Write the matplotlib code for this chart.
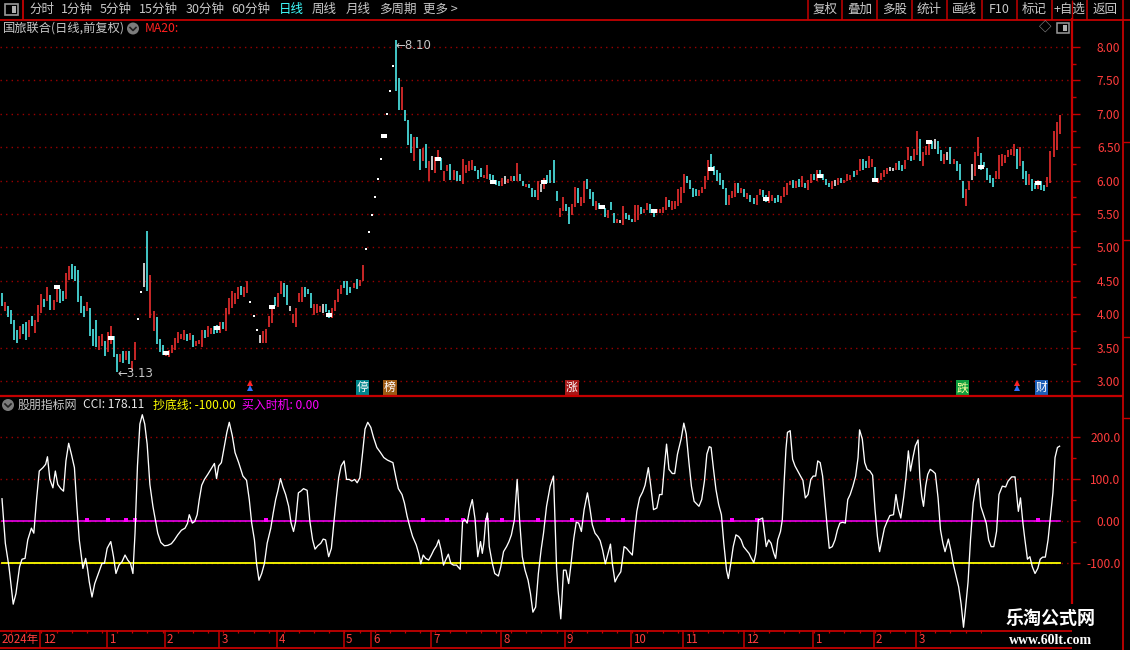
import numpy as np
import matplotlib
matplotlib.use("Agg")
import matplotlib.pyplot as plt
from matplotlib.patches import Rectangle, Circle
from matplotlib.transforms import blended_transform_factory

plt.rcParams['font.family'] = ['Noto Sans CJK SC', 'DejaVu Sans']

# ---- daily bars (high / low), kind: r=up g=down w=flat o=one-price ----
hi = [
 4.32,4.18,4.13,4.06,3.91,3.77,3.83,3.85,3.88,3.92,
 3.98,3.91,4.14,4.30,4.22,4.41,4.28,4.21,4.43,4.38,
 4.34,4.62,4.72,4.75,4.72,4.66,4.27,4.13,4.18,4.10,
 3.78,3.92,3.68,3.71,3.60,3.73,3.83,3.68,3.41,3.40,
 3.45,3.45,3.45,3.30,3.58,3.93,4.33,4.77,5.25,4.59,
 4.05,3.96,3.63,3.54,3.42,3.47,3.54,3.65,3.73,3.71,
 3.76,3.70,3.72,3.69,3.60,3.61,3.77,3.76,3.82,3.80,
 3.83,3.84,3.89,3.88,4.10,4.24,4.35,4.32,4.41,4.42,
 4.41,4.49,4.18,3.97,3.77,3.69,3.75,3.78,3.97,4.14,
 4.26,4.31,4.50,4.47,4.43,4.12,4.00,4.10,4.31,4.41,
 4.41,4.38,4.31,4.15,4.16,4.12,4.16,4.16,4.06,4.09,
 4.21,4.37,4.44,4.50,4.49,4.41,4.46,4.52,4.51,4.73,
 4.97,5.23,5.48,5.75,6.03,6.33,6.65,7.00,7.34,7.72,
 8.10,7.54,7.40,7.05,6.91,6.70,6.65,6.65,6.48,6.49,
 6.55,6.29,6.37,6.36,6.46,6.34,6.15,6.24,6.25,6.16,
 6.14,6.09,6.33,6.24,6.29,6.31,6.22,6.16,6.19,6.09,
 6.24,6.10,6.09,6.01,6.00,6.04,6.07,6.02,6.07,6.07,
 6.26,6.10,6.00,5.95,5.95,5.89,5.86,5.99,5.95,6.04,
 6.09,6.16,6.31,5.85,5.59,5.76,5.65,5.61,5.65,5.91,
 5.89,5.76,6.00,6.02,5.87,5.83,5.70,5.67,5.62,5.59,
 5.56,5.68,5.52,5.43,5.41,5.62,5.51,5.48,5.43,5.63,
 5.63,5.61,5.58,5.67,5.65,5.58,5.58,5.58,5.60,5.76,
 5.71,5.70,5.70,5.88,5.91,6.10,6.07,6.01,5.89,5.87,
 5.86,5.91,6.07,6.31,6.40,6.22,6.16,6.11,6.01,5.89,
 5.78,5.84,5.96,5.96,5.89,5.87,5.81,5.78,5.74,5.78,
 5.87,5.86,5.78,5.84,5.78,5.74,5.78,5.77,5.91,5.96,
 5.99,6.01,5.99,6.02,6.07,5.96,6.01,6.10,6.10,6.16,
 6.16,6.10,6.02,5.97,5.99,6.01,6.04,6.04,6.01,6.10,
 6.09,6.14,6.16,6.33,6.33,6.30,6.37,6.33,6.20,6.04,
 6.12,6.16,6.19,6.21,6.19,6.27,6.30,6.24,6.31,6.50,
 6.37,6.48,6.75,6.62,6.43,6.52,6.58,6.60,6.63,6.60,
 6.46,6.40,6.43,6.51,6.32,6.29,6.25,5.99,5.87,5.99,
 6.25,6.43,6.65,6.42,6.28,6.19,6.09,6.04,6.14,6.38,
 6.40,6.38,6.46,6.48,6.55,6.48,6.50,6.29,6.15,6.10,
 6.02,5.97,6.01,5.99,5.94,6.06,6.45,6.75,6.88,6.98,
]
lo = [
 4.12,4.05,3.96,3.85,3.62,3.57,3.63,3.71,3.62,3.66,
 3.82,3.72,3.88,4.02,4.11,4.20,4.07,4.07,4.18,4.17,
 4.20,4.22,4.51,4.52,4.49,4.18,4.02,3.96,4.05,3.68,
 3.52,3.51,3.47,3.53,3.37,3.44,3.56,3.36,3.13,3.28,
 3.27,3.31,3.26,3.16,3.32,3.93,4.33,4.40,4.34,3.95,
 3.75,3.56,3.44,3.39,3.38,3.36,3.42,3.47,3.57,3.63,
 3.61,3.60,3.61,3.51,3.53,3.55,3.51,3.65,3.66,3.70,
 3.71,3.72,3.72,3.78,3.75,4.01,4.09,4.16,4.22,4.29,
 4.26,4.32,4.18,3.97,3.77,3.57,3.57,3.57,3.81,3.87,
 4.12,4.11,4.30,4.25,4.14,4.05,3.87,3.81,4.19,4.19,
 4.26,4.30,4.10,3.99,4.02,4.04,4.02,4.04,3.95,3.95,
 4.05,4.19,4.30,4.39,4.29,4.32,4.39,4.38,4.42,4.49,
 4.97,5.23,5.48,5.75,6.03,6.33,6.65,7.00,7.34,7.72,
 7.34,7.06,7.05,6.89,6.54,6.41,6.30,6.49,6.16,6.29,
 6.19,5.99,6.16,6.11,6.30,6.16,5.99,6.14,6.01,6.01,
 5.99,6.00,5.95,6.11,6.14,6.16,6.14,6.02,6.06,6.04,
 6.02,6.01,5.95,5.94,5.92,5.92,5.95,5.97,5.99,5.99,
 5.99,6.00,5.92,5.91,5.89,5.75,5.75,5.71,5.83,5.87,
 5.96,5.97,5.97,5.69,5.45,5.54,5.54,5.35,5.48,5.61,
 5.66,5.62,5.66,5.87,5.73,5.62,5.56,5.58,5.57,5.46,
 5.44,5.56,5.37,5.36,5.37,5.34,5.43,5.41,5.38,5.38,
 5.41,5.50,5.52,5.56,5.52,5.46,5.52,5.51,5.52,5.56,
 5.60,5.56,5.58,5.62,5.67,5.81,5.96,5.88,5.75,5.77,
 5.77,5.81,5.88,6.01,6.16,6.09,5.99,5.93,5.88,5.63,
 5.63,5.74,5.76,5.82,5.81,5.76,5.72,5.68,5.65,5.63,
 5.78,5.76,5.68,5.67,5.69,5.66,5.68,5.67,5.76,5.78,
 5.93,5.89,5.89,5.91,5.91,5.89,5.86,5.97,6.01,6.00,
 6.04,6.01,5.93,5.91,5.88,5.92,5.94,5.96,5.96,5.99,
 6.01,6.05,6.09,6.14,6.16,6.19,6.19,6.21,5.99,5.97,
 6.01,6.06,6.10,6.14,6.14,6.16,6.16,6.15,6.17,6.31,
 6.30,6.31,6.38,6.29,6.22,6.38,6.38,6.47,6.48,6.40,
 6.30,6.25,6.31,6.25,6.25,6.15,6.01,5.74,5.62,5.86,
 6.01,6.07,6.37,6.16,6.20,6.01,5.96,5.91,6.02,6.02,
 6.22,6.26,6.35,6.38,6.37,6.17,6.22,6.02,5.94,5.94,
 5.84,5.87,5.87,5.86,5.84,5.91,5.97,6.36,6.46,6.70,
]
kind = "".join("""
grggggrggr grrrgrgrrg grrgggggrg ggrrgrrggr grgrroowgr
rgggrrrrrr rgrgrrrgrr ggrgrrrrrg rrooowrrrr grrggwrrrr
gggrrrwggr rrrgggrgrr oooooooooo ggrgggrggr grwrrgrrgr
ggrrrrgggr rggggrwrrg rggrgggrwr ggggrrggrr grrgggrggg
rggrwrgggr rgrrggrrrr grrrrrgggg rrrrgggggg rrrgrgrggr
rggrrggrrr rgrgrgrrgr ggggrwrgrr rgrrggrrgr rrrwwrggrr
grrgrrrgwg grwgrgggrr wrrgggggrr rrrrrgrggr ggrggrrrrr
""".split())

# white square marks on the price chart
sq_day = [18, 36, 54, 71, 89, 108, 126, 144, 162, 179, 198, 215, 234, 252, 270, 288, 306, 323, 342]
sq_price = [4.40, 3.65, 3.42, 3.80, 4.11, 3.99, 6.67, 6.33, 5.98, 5.98, 5.61, 5.55, 6.17,
            5.72, 6.07, 6.01, 6.58, 6.21, 5.96]

# events row at the bottom of the price panel
event_day = [82, 119, 128, 188, 317, 335, 343]
event_txt = ['^', '停', '榜', '涨', '跌', '^', '财']

# month boundaries on the date axis
month_day = [13, 35, 54, 72, 91, 113, 122, 142, 165, 186, 208, 225, 245, 268, 288, 302]
month_lab = ['12', '1', '2', '3', '4', '5', '6', '7', '8', '9', '10', '11', '12', '1', '2', '3']

# CCI line (day position, value)
cci_day = [
 0.0, 1.1, 2.3, 3.7, 4.6, 5.8, 6.6, 7.6, 8.5, 9.7, 10.5, 11.4, 12.3, 13.5, 14.4, 15.0, 15.8,
 16.8, 17.6, 18.4, 19.4, 20.3, 21.1, 22.0, 22.9, 23.9, 24.7, 25.5, 26.7, 27.6, 28.2, 28.8,
 29.7, 30.6, 31.8, 33.0, 33.8, 34.7, 35.9, 36.8, 37.6, 38.6, 39.6, 40.6, 41.5, 42.4, 43.2,
 43.9, 44.7, 45.5, 46.3, 47.1, 47.9, 48.8, 49.8, 50.6, 51.4, 52.4, 53.6, 54.7, 55.9, 56.9,
 58.0, 59.2, 60.4, 61.2, 61.8, 62.8, 63.6, 64.4, 65.1, 65.9, 66.8, 67.9, 69.1, 70.1, 70.8,
 71.5, 72.4, 73.4, 74.2, 75.0, 76.0, 76.9, 78.1, 79.5, 80.7, 81.6, 82.4, 83.3, 84.0, 84.8,
 85.7, 86.6, 87.5, 88.7, 89.5, 90.3, 91.0, 91.9, 92.7, 93.6, 94.6, 95.4, 96.2, 96.9, 97.8,
 98.6, 99.5, 100.7, 101.6, 102.5, 103.3, 104.2, 105.2, 106.0, 106.8, 107.8, 108.7, 109.5,
 110.4, 111.1, 111.9, 112.9, 113.7, 114.6, 115.4, 116.4, 117.2, 118.1, 119.0, 119.8, 120.7,
 121.7, 122.6, 123.7, 124.9, 126.0, 127.2, 129.0, 130.0, 130.8, 132.0, 132.8, 133.7, 134.7,
 135.5, 136.7, 137.5, 138.2, 139.0, 139.8, 140.8, 141.7, 142.5, 143.4, 144.1, 144.9, 145.7,
 146.4, 147.3, 148.1, 149.0, 150.0, 151.2, 152.0, 152.8, 153.5, 154.3, 155.2, 156.1, 157.0,
 157.9, 158.5, 159.0, 159.6, 160.2, 160.8, 161.8, 162.6, 163.8, 164.6, 165.5, 166.5, 167.3,
 168.1, 169.1, 170.0, 170.8, 171.7, 172.6, 173.6, 174.4, 175.2, 176.1, 177.0, 177.9, 178.7,
 179.7, 180.9, 182.0, 183.0, 183.5, 184.4, 185.3, 186.1, 187.0, 187.8, 188.7, 189.5, 190.3,
 191.2, 192.1, 193.2, 194.0, 194.8, 195.7, 196.6, 197.4, 198.2, 199.1, 200.0, 200.8, 201.4,
 202.3, 203.1, 204.2, 205.3, 206.1, 207.0, 208.0, 208.7, 209.5, 210.4, 211.4, 212.2, 213.3,
 214.1, 215.0, 216.1, 217.0, 217.8, 218.6, 219.3, 220.1, 221.2, 222.0, 222.9, 224.1, 225.0,
 225.8, 226.7, 227.5, 228.4, 229.2, 230.0, 230.9, 231.8, 232.6, 233.4, 234.0, 234.8, 235.6,
 236.5, 237.4, 238.2, 239.1, 239.7, 240.5, 241.3, 242.2, 243.1, 243.9, 244.7, 245.6, 246.5,
 247.3, 248.1, 248.8, 249.6, 250.4, 251.0, 251.5, 252.2, 253.0, 253.8, 254.7, 255.3, 256.0,
 256.9, 257.5, 258.1, 258.7, 259.2, 260.1, 260.9, 261.7, 262.6, 263.5, 264.3, 265.1, 266.0,
 266.9, 267.7, 268.5, 269.2, 270.0, 270.8, 271.5, 272.3, 273.0, 274.0, 274.9, 275.7, 276.5,
 277.4, 278.3, 279.1, 279.9, 280.8, 281.7, 282.5, 283.0, 283.9, 284.7, 285.5, 286.4, 287.3,
 288.1, 288.9, 289.6, 290.4, 291.2, 292.1, 293.0, 294.2, 295.0, 295.7, 296.6, 297.6, 298.3,
 299.1, 299.8, 300.6, 301.4, 302.3, 302.9, 303.5, 304.1, 304.8, 305.5, 306.3, 307.1, 308.0,
 308.9, 309.7, 310.5, 311.2, 312.3, 313.1, 313.9, 314.8, 315.7, 316.5, 317.3, 318.0, 318.8,
 319.6, 320.5, 321.4, 322.2, 323.0, 323.9, 324.8, 325.6, 326.4, 327.3, 328.2, 329.0, 330.1,
 331.2, 332.0, 333.2, 334.3, 335.0, 335.4, 336.1, 336.9, 337.5, 338.4, 339.2, 340.0, 340.9,
 341.8, 342.6, 343.4, 344.3, 345.2, 346.0, 346.8, 347.5, 348.3, 349.0,
]
cci_val = [
 53, -53, -109, -198, -173, -109, -91, -89, -45, -17, -29, 51, 119, 127, 135, 153, 99,
 79, 119, 87, 77, 71, 143, 185, 159, 127, 35, -45, -113, -89, -113, -145,
 -181, -149, -125, -101, -101, -65, -49, -85, -125, -105, -97, -81, -93, -101, -125,
 -29, 131, 231, 253, 231, 183, 87, 35, 3, -29, -51, -59, -58, -54, -45,
 -33, -22, -17, -6, 15, -5, -1, 15, 51, 85, 99, 111, 125, 137, 101,
 131, 139, 179, 211, 235, 203, 163, 139, 107, 97, 51, -5, -45, -101, -141,
 -125, -101, -53, -17, 19, 51, 71, 101, 81, 63, 35, -5, -25, -1, 67,
 71, 77, 73, -1, -45, -67, -59, -53, -43, -45, -85, -65, -5,
 59, 103, 131, 143, 99, 99, 95, 99, 91, 103, 163, 219, 235,
 223, 199, 175, 163, 151, 145, 139, 103, 77, 63, 43, 11, -17,
 -37, -57, -77, -102, -81, -89, -93, -81, -69, -59, -45, -69, -105,
 -93, -79, -101, -105, -105, -115, -1, 3, -5, 27, 51, 5, -85,
 -49, -77, -53, -1, 19, -61, -101, -125, -131, -109, -73, -61, -49,
 -33, 3, 99, 3, -85, -117, -141, -173, -217, -205, -125, -69, -29,
 35, 83, 107, -109, -165, -233, -117, -117, -149, -101, -41, -3, -5,
 -25, 27, 67, 31, -9, -29, -37, -47, -69, -102, -77, -55, -101,
 -145, -133, -121, -61, -65, -73, -81, -29, 23, 55, 69, 85, 127,
 83, 27, 31, 63, 63, 131, 183, 123, 113, 113, 159, 195, 233,
 207, 139, 83, 47, 41, 35, 51, 95, 159, 177, 175, 123, 75,
 39, 15, -53, -117, -137, -101, -61, -33, -37, -45, -61, -69, -77,
 -89, -99, -77, 3, 5, 7, -21, -61, -45, -53, -77, -89, -45,
 -25, 3, 91, 171, 211, 215, 147, 131, 119, 107, 97, 55, 63,
 99, 107, 107, 143, 139, 107, 51, -13, -65, -61, -45, -21, -5,
 -3, -5, 51, 63, 83, 107, 151, 217, 195, 139, 123, 119, 109,
 27, -37, -73, -45, -17, -1, 13, 15, 63, 31, 7, 59, 103,
 167, 119, 151, 179, 193, 103, 59, 35, 83, 111, 123, 119, 113,
 55, -21, -53, -73, -43, -69, -102, -129, -157, -197, -253, -205, -145,
 -45, 43, 83, 101, 35, 15, -5, -45, -61, -61, -25, 63, 83,
 81, 95, 105, 105, 51, 23, 55, -5, -41, -91, -85, -109, -125,
 -113, -91, -86, -86, -45, 11, 67, 151, 175, 178.11,
]
buy_day = [28, 35, 41, 44, 87, 139, 147, 152, 160, 165, 177, 188, 200, 205, 241, 249, 342]
cci_last = 178.11
bottom_line = -100.0
buy_now = 0.0

assert len(hi) == len(lo) == len(kind)
assert len(cci_day) == len(cci_val)

# ---- colours ----
UP = '#ff3232'
DN = '#54fcfc'
FRAME = '#c40000'
GRID = '#9a0000'
AXTXT = '#ff3c3c'
GREY = '#c8c8c8'

W, H = 1130, 650
fig = plt.figure(figsize=(W / 100, H / 100), dpi=100, facecolor='black')
XL = (-0.66, 353.1)


def panel(top, bottom):
    a = fig.add_axes([0, 1 - bottom / H, 1072 / W, (bottom - top) / H])
    a.set_facecolor('black')
    a.set_xlim(*XL)
    for s in ('left', 'top', 'bottom'):
        a.spines[s].set_visible(False)
    a.spines['right'].set_color(FRAME)
    a.spines['right'].set_linewidth(1.6)
    a.set_xticks([])
    a.yaxis.tick_right()
    a.tick_params(axis='y', which='major', colors=FRAME, labelcolor=AXTXT,
                  length=6, width=1, pad=28.8, labelsize=8.6)
    a.tick_params(axis='y', which='minor', colors=FRAME, length=3, width=1)
    return a


# ---- price panel ----
ax = panel(19, 395)
ax.set_ylim(2.79, 8.42)
pt = np.arange(3.0, 8.01, 0.5)
ax.set_yticks(pt, ['%.2f' % v for v in pt])
ax.set_yticks(pt[:-1] + 0.25, minor=True)
for lab in ax.get_yticklabels():
    lab.set_horizontalalignment('right')
for v in pt:
    ax.axhline(v, color=GRID, lw=1.0, ls=(0, (1, 3)), zorder=1)

x = np.arange(len(hi))
hi_a, lo_a = np.array(hi), np.array(lo)
k = np.array(list(kind))
for code, col in (('r', UP), ('g', DN), ('w', 'white')):
    m = k == code
    ax.vlines(x[m], lo_a[m], hi_a[m], colors=col, lw=1.1, zorder=3)
m = k == 'o'
ax.plot(x[m], hi_a[m], ls='none', marker='s', ms=1.5, color='white', mew=0, zorder=3)
box = [(-1, -0.62), (1, -0.62), (1, 0.62), (-1, 0.62), (-1, -0.62)]
ax.plot(sq_day, sq_price, ls='none', marker=box, ms=4.8, color='white', mew=0, zorder=4)

i_max, i_min = int(np.argmax(hi_a)), int(np.argmin(lo_a))
ax.annotate('\u2190%.2f' % hi_a[i_max], (i_max, hi_a[i_max]), xytext=(0, -4),
            textcoords='offset points', color=GREY, fontsize=8.5, va='center',
            family=['DejaVu Sans'])
ax.annotate('\u2190%.2f' % lo_a[i_min], (i_min, lo_a[i_min]), xytext=(0, -1),
            textcoords='offset points', color=GREY, fontsize=8.5, va='center',
            family=['DejaVu Sans'])

ev_style = {'停': ('#00868b', 'white'), '榜': ('#9c5a14', 'white'), '涨': ('#a81818', 'white'),
            '跌': ('#10a040', '#ffffa0'), '财': ('#1c5fb8', 'white')}
tr = blended_transform_factory(ax.transData, ax.transAxes)
for d, t in zip(event_day, event_txt):
    if t == '^':
        ax.plot([d], [0.032], marker='^', ms=4, color='#ff2020', mew=0, transform=tr, zorder=5)
        ax.plot([d], [0.019], marker='^', ms=4, color='#3070ff', mew=0, transform=tr, zorder=5)
    else:
        bg, fg = ev_style[t]
        ax.text(d, 0.019, t, transform=tr, ha='center', va='center', fontsize=8.5, color=fg,
                bbox=dict(boxstyle='square,pad=0.08', fc=bg, ec='none'), zorder=5)

# ---- CCI panel ----
ax2 = panel(396, 630)
ax2.set_ylim(-259.5, 297.6)
ct = [-100, 0, 100, 200]
ax2.set_yticks(ct, ['-100.0', '0.00', '100.0', '200.0'])
ax2.set_yticks([-50, 50, 150], minor=True)
for lab in ax2.get_yticklabels():
    lab.set_horizontalalignment('right')
for v in ct:
    ax2.axhline(v, color=GRID, lw=1.0, ls=(0, (1, 3)), zorder=1)
n = len(hi)
ax2.plot([0, n - 1], [bottom_line, bottom_line], color='#ffff00', lw=1.3, zorder=2)
ax2.plot([0, n - 1], [buy_now, buy_now], color='#ff00ff', lw=1.1, zorder=2)
ax2.plot(buy_day, [3] * len(buy_day), ls='none', marker='s', ms=2.2, color='#ff00ff', mew=0, zorder=2)
ax2.plot(cci_day, cci_val, color='white', lw=0.95, zorder=3)

# ---- date axis ----
ax3 = fig.add_axes([0, 1 - 648 / H, 1072 / W, 18 / H])
ax3.set_xlim(*XL)
ax3.set_ylim(0, 1)
ax3.axis('off')
ax3.vlines([d - 0.3 for d in month_day], 0, 1, colors=FRAME, lw=1.1)
ax3.vlines(np.arange(3, n, 5), 0.82, 1, colors=FRAME, lw=0.9)
for d, t in zip(month_day, month_lab):
    ax3.text(d + 0.4, 0.45, t, color=AXTXT, fontsize=8.3, va='center', ha='left')
ax3.text(XL[0] + 0.5, 0.45, '2024年', color=AXTXT, fontsize=8.3, va='center', ha='left')

# ---- frame, toolbar and labels (pixel overlay) ----
ov = fig.add_axes([0, 0, 1, 1], zorder=10)
ov.set_xlim(0, W)
ov.set_ylim(H, 0)
ov.axis('off')
ov.patch.set_alpha(0)


def line(x0, y0, x1, y1, c=FRAME, lw=1.3):
    ov.plot([x0, x1], [y0, y1], color=c, lw=lw, solid_capstyle='butt')


def txt(x0, y0, s, c=GREY, size=9, ha='left', **kw):
    ov.text(x0, y0, s, color=c, fontsize=size, ha=ha, va='center', **kw)


line(0, 19.5, W, 19.5)
line(0, 395.5, 1123, 395.5, lw=1.6)
line(0, 630.5, 1072, 630.5)
line(0, 647.5, 1072, 647.5)
line(1123, 19, 1123, H)
for yy in (142, 240, 337, 418):
    line(1123, yy, W, yy, lw=1)
line(1072, 0, 1072, 19.5, lw=1)

# left toolbar
line(22.5, 0, 22.5, 19.5)
ov.add_patch(Rectangle((5, 4), 13, 11, fc='none', ec='#9a9a9a', lw=1.2))
ov.add_patch(Rectangle((12, 6), 4, 7, fc='#b0b0b0', ec='none'))
tabs = ['分时', '1分钟', '5分钟', '15分钟', '30分钟', '60分钟', '日线', '周线', '月线', '多周期', '更多 >']
tab_x = [29, 61, 100, 139, 186, 231, 279, 312, 346, 379, 423]
for tx, t in zip(tab_x, tabs):
    txt(tx, 9.5, t, c='#40ffff' if t == '日线' else GREY, size=9)

# right toolbar
btn = ['复权', '叠加', '多股', '统计', '画线', 'F10', '标记', '+自选', '返回']
sep = [807.7, 842.3, 876.7, 911.7, 946.7, 981.7, 1016.7, 1051.7, 1086.7, 1122.7]
for s in sep:
    line(s, 0, s, 19.5, lw=1.1)
for i, b in enumerate(btn):
    txt((sep[i] + sep[i + 1]) / 2, 9.5, b, ha='center', size=9)

# price panel title
txt(3, 28.5, '国旅联合(日线,前复权)', size=8.8)
ov.add_patch(Circle((133, 28.5), 6, fc='#7c7c7c', ec='none'))
ov.plot([130, 133, 136], [27.5, 30.5, 27.5], color='#202020', lw=1.2)
txt(145, 28.5, 'MA20:', c='#ff2020', size=8.8)
txt(1045, 28, '\u25c7', c='#a0a0a0', size=9, ha='center')
ov.add_patch(Rectangle((1057, 23), 12, 10, fc='none', ec='#9a9a9a', lw=1.1))
ov.add_patch(Rectangle((1063, 25), 4, 6, fc='#b0b0b0', ec='none'))

# CCI panel title
ov.add_patch(Circle((8, 405), 6, fc='#7c7c7c', ec='none'))
ov.plot([5, 8, 11], [404, 407, 404], color='#202020', lw=1.2)
txt(18, 405, '股朋指标网', size=8.6)
txt(83, 405, 'CCI: %.2f' % cci_last, c='#e8e8e8', size=8.6)
txt(153, 405, '抄底线: %.2f' % bottom_line, c='#ffff00', size=8.6)
txt(242, 405, '买入时机: %.2f' % buy_now, c='#ff00ff', size=8.6)

# watermark
ov.add_patch(Rectangle((982, 604), W - 982, H - 604, fc='black', ec='none'))
txt(1051, 618, '乐淘公式网', c='white', size=13, ha='center', weight='bold')
txt(1051, 640, 'www.60lt.com', c='white', size=10, ha='center', weight='bold',
    family=['Liberation Serif', 'DejaVu Serif'])

fig.savefig('out.png', dpi=100, facecolor='black')
